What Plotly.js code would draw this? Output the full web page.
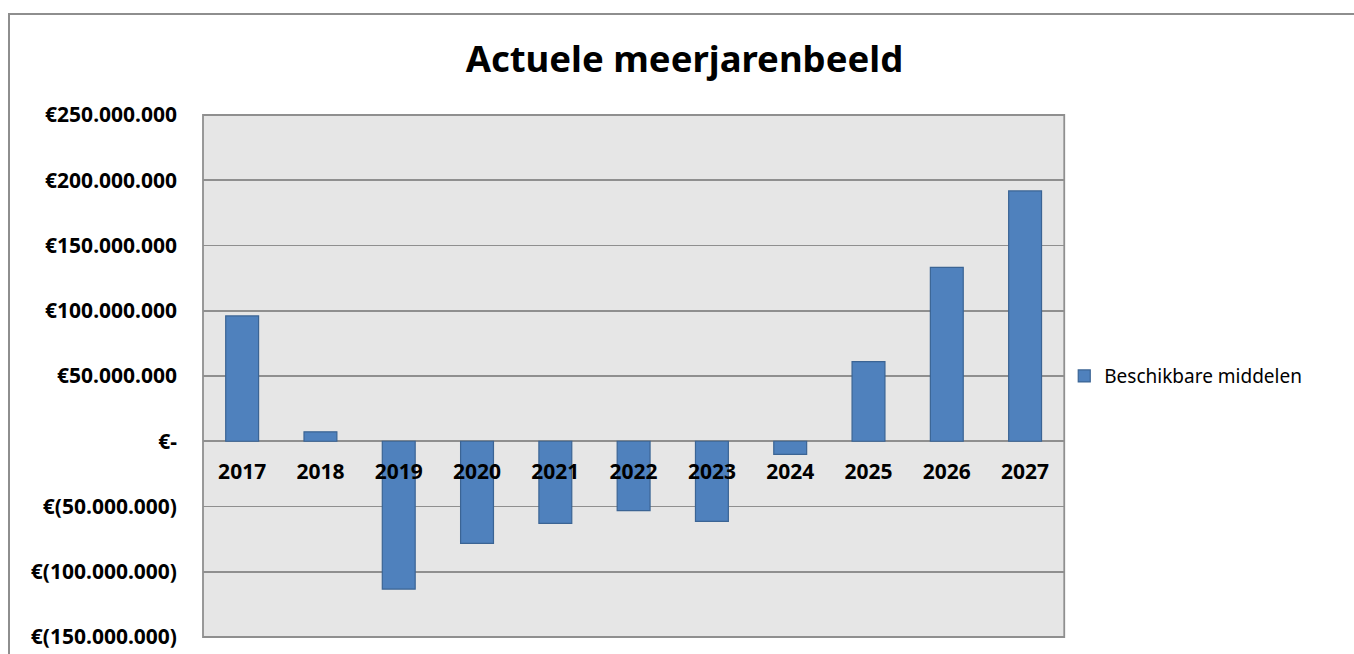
<!DOCTYPE html>
<html>
<head>
<meta charset="utf-8">
<script src="https://cdn.plot.ly/plotly-3.0.1.min.js"></script>
<style>
  html, body { margin: 0; padding: 0; background: #ffffff; }
  #wrap { position: relative; width: 1354px; height: 654px; overflow: hidden; }
  #chart { position: absolute; left: 0; top: 0; width: 1354px; height: 654px; }
  #frame { position: absolute; left: 8px; top: 13px; width: 1400px; height: 700px;
           border-left: 2px solid #8e8e8e; border-top: 2px solid #8e8e8e; pointer-events: none; }
</style>
</head>
<body>
<div id="wrap">
  <div id="chart"></div>
  <div id="frame"></div>
</div>
<script>
// Data
const years = ['2017', '2018', '2019', '2020', '2021', '2022', '2023', '2024', '2025', '2026', '2027'];
const beschikbareMiddelen = [96000000, 7200000, -113300000, -78300000, -62900000, -53200000, -61400000, -10100000, 61000000, 133300000, 191800000];
const seriesName = 'Beschikbare middelen';
const chartTitle = 'Actuele meerjarenbeeld';
const yTickVals = [250000000, 200000000, 150000000, 100000000, 50000000, 0, -50000000, -100000000, -150000000];
const yTickText = ['€250.000.000', '€200.000.000', '€150.000.000', '€100.000.000', '€50.000.000', '€-', '€(50.000.000)', '€(100.000.000)', '€(150.000.000)'];
const yMin = -150000000, yMax = 250000000;

const trace = {
  type: 'bar',
  x: years,
  y: beschikbareMiddelen,
  name: seriesName,
  showlegend: true,
  marker: { color: '#4f81bd', line: { color: '#3b6494', width: 1.2 } },
  hoverinfo: 'x+y'
};

const layout = {
  width: 1354,
  height: 654,
  margin: { l: 203, r: 289, t: 115, b: 17, pad: 0 },
  paper_bgcolor: '#ffffff',
  plot_bgcolor: '#e6e6e6',
  font: { family: 'Noto Sans, DejaVu Sans, sans-serif', color: '#000000' },
  title: {
    text: chartTitle,
    font: { family: 'Noto Sans, sans-serif', size: 36.5, weight: 700, color: '#000000' },
    xref: 'container', x: 0.5055, xanchor: 'center',
    yref: 'container', y: 0.91, yanchor: 'middle'
  },
  bargap: 0.58,
  showlegend: true,
  legend: {
    xref: 'container', yref: 'container',
    x: 0.786, xanchor: 'left',
    y: 0.425, yanchor: 'middle',
    font: { family: 'Noto Sans, sans-serif', size: 19, color: '#000000' },
    bgcolor: 'rgba(0,0,0,0)',
    itemwidth: 30
  },
  xaxis: {
    type: 'category',
    range: [-0.5, years.length - 0.5],
    anchor: 'free',
    position: (0 - yMin) / (yMax - yMin),
    showline: false,
    showgrid: false,
    zeroline: false,
    ticks: '',
    ticklabelstandoff: 16,
    tickfont: { family: 'Noto Sans, sans-serif', size: 21, weight: 700, color: '#000000' },
    fixedrange: true
  },
  yaxis: {
    range: [yMin, yMax],
    tickmode: 'array',
    tickvals: yTickVals,
    ticktext: yTickText,
    showgrid: true,
    gridcolor: '#8f8f8f',
    gridwidth: 1.8,
    zeroline: true,
    zerolinecolor: '#8f8f8f',
    zerolinewidth: 1.8,
    showline: false,
    ticks: '',
    ticklabelstandoff: 25,
    tickfont: { family: 'Noto Sans, sans-serif', size: 21, weight: 700, color: '#000000' },
    fixedrange: true
  },
  shapes: [{
    type: 'rect', xref: 'paper', yref: 'paper', x0: 0, x1: 1, y0: 0, y1: 1,
    line: { color: '#8f8f8f', width: 1.8 }, fillcolor: 'rgba(0,0,0,0)', layer: 'above'
  }]
};

Plotly.newPlot('chart', [trace], layout, { displayModeBar: false, staticPlot: true });
</script>
</body>
</html>
